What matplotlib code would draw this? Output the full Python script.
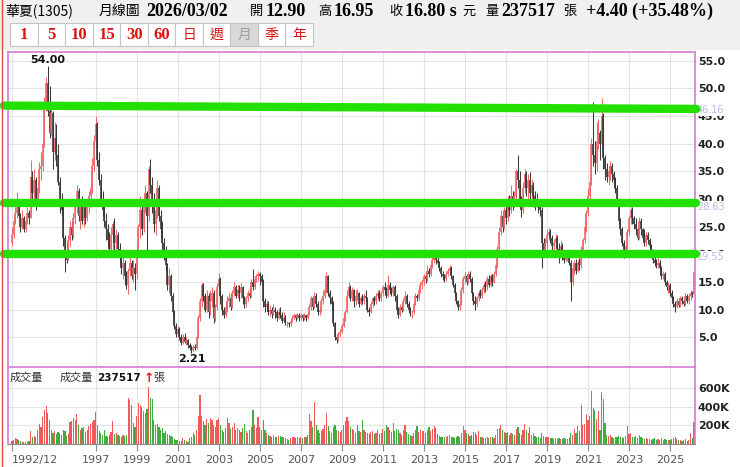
import numpy as np
import matplotlib
matplotlib.use("Agg")
import matplotlib.pyplot as plt
from matplotlib.patches import Rectangle
from matplotlib.lines import Line2D
from matplotlib.transforms import blended_transform_factory

plt.rcParams['font.family'] = ['DejaVu Sans', 'Noto Sans CJK TC']

# monthly bars 1992/12 .. 2026/03 (one row per year)
close = [
    23.5,
    26.0, 27.5, 29.5, 27.0, 25.0, 26.5, 24.5, 26.0, 27.5, 26.5, 34.0, 31.0,
    33.5, 29.5, 32.0, 35.5, 36.0, 40.0, 47.0, 51.0, 46.0, 42.0, 45.5, 38.5,
    41.0, 38.0, 33.0, 29.0, 28.0, 23.0, 20.5, 19.0, 22.5, 25.0, 23.5, 26.5,
    28.5, 31.5, 27.0, 28.5, 26.0, 28.5, 26.5, 29.0, 30.5, 32.0, 36.0, 40.5,
    43.5, 37.0, 33.5, 30.0, 28.0, 26.0, 24.5, 22.5, 21.0, 23.5, 25.5, 22.0,
    23.5, 21.0, 19.5, 17.5, 18.5, 16.0, 14.5, 17.0, 18.5, 16.0, 17.5, 16.5,
    20.5, 25.0, 28.0, 24.5, 29.5, 31.0, 27.0, 35.5, 32.5, 30.0, 25.5, 28.0,
    32.0, 27.0, 24.5, 22.0, 20.0, 18.0, 14.5, 16.0, 12.5, 9.5, 7.0, 5.5,
    6.5, 5.0, 4.0, 5.0, 4.2, 4.5, 3.5, 3.0, 2.6, 3.2, 3.0, 5.0,
    8.5, 11.5, 14.5, 12.5, 10.0, 12.5, 9.5, 11.5, 13.0, 8.5, 10.5, 14.0,
    15.5, 12.5, 10.0, 9.0, 10.5, 11.5, 12.0, 10.5, 13.0, 14.0, 12.5, 13.5,
    13.0, 14.0, 12.0, 11.0, 12.0, 13.0, 12.5, 15.0, 14.0, 15.5, 16.0, 16.5,
    16.0, 15.0, 11.5, 10.5, 11.0, 9.5, 10.0, 9.2, 10.0, 9.5, 8.5, 9.5,
    9.0, 8.0, 8.5, 7.5, 7.5, 7.3, 8.0, 8.5, 9.0, 8.5, 9.0, 8.5,
    9.0, 8.4, 9.0, 8.5, 9.2, 10.5, 12.0, 10.5, 12.5, 11.0, 9.5, 10.0,
    11.5, 12.5, 13.5, 16.0, 13.0, 12.0, 11.0, 7.5, 5.0, 4.5, 5.5, 6.0,
    7.0, 8.5, 9.5, 12.5, 14.0, 12.0, 13.5, 11.5, 12.5, 13.0, 11.0, 12.0,
    11.5, 12.5, 12.0, 10.0, 9.5, 11.0, 12.0, 11.5, 12.5, 13.0, 12.0, 13.0,
    14.0, 13.5, 12.5, 14.5, 13.5, 13.0, 14.0, 12.5, 10.0, 9.0, 10.5, 10.0,
    11.5, 12.5, 11.0, 10.0, 9.5, 9.5, 11.0, 12.5, 12.0, 13.5, 14.5, 15.0,
    16.0, 15.5, 17.0, 16.5, 18.0, 19.0, 20.0, 19.0, 18.5, 17.5, 16.5, 16.0,
    15.5, 16.5, 17.0, 17.5, 16.0, 14.5, 13.0, 11.5, 10.5, 11.0, 13.5, 15.5,
    16.0, 15.0, 16.5, 15.5, 13.0, 11.5, 11.0, 12.0, 13.0, 12.5, 13.5, 14.5,
    14.0, 15.5, 14.5, 16.0, 15.0, 16.5, 18.0, 21.0, 24.0, 27.0, 25.0, 28.0,
    26.5, 29.5, 28.0, 30.5, 29.5, 30.5, 35.0, 33.5, 30.0, 28.0, 32.0, 34.5,
    32.0, 33.5, 31.0, 32.5, 30.5, 29.5, 29.0, 28.5, 28.0, 22.0, 20.5, 22.0,
    23.5, 24.0, 23.0, 21.5, 22.0, 23.0, 21.0, 20.5, 21.5, 20.0, 19.0, 19.5,
    20.0, 18.5, 15.0, 17.5, 18.5, 17.0, 18.5, 18.0, 20.5, 22.5, 25.0, 27.5,
    30.5, 33.0, 40.0, 38.0, 36.5, 40.5, 42.0, 40.0, 45.0, 37.5, 35.5, 34.0,
    35.0, 36.0, 34.5, 33.5, 32.0, 29.5, 26.0, 24.5, 22.0, 20.5, 21.5, 24.0,
    26.5, 28.0, 26.5, 25.5, 24.5, 23.0, 26.0, 24.5, 23.0, 22.0, 23.5, 22.5,
    21.5, 20.5, 19.0, 18.5, 18.0, 18.5, 17.5, 16.0, 16.5, 15.0, 14.0, 14.5,
    13.0, 12.0, 11.0, 10.5, 11.5, 10.8, 12.0, 11.5, 11.0, 12.5, 11.5, 12.5,
    13.0, 12.9, 16.8,
]
high = [
    25.0,
    26.5, 28.5, 31.2, 30.0, 27.5, 28.0, 27.0, 27.0, 28.5, 28.0, 37.0, 35.0,
    35.5, 34.0, 33.0, 36.7, 38.5, 41.0, 48.5, 52.0, 54.0, 50.5, 47.0, 46.0,
    44.0, 43.5, 40.0, 34.0, 31.0, 29.0, 23.5, 22.0, 23.5, 26.0, 26.0, 27.5,
    29.5, 32.5, 32.0, 29.5, 30.5, 29.5, 30.0, 30.0, 31.5, 33.0, 37.5, 41.5,
    45.0, 44.0, 38.5, 34.5, 31.5, 29.0, 27.5, 25.5, 24.0, 25.0, 26.0, 26.5,
    24.5, 24.0, 22.0, 20.5, 19.5, 19.0, 17.0, 17.5, 19.5, 19.0, 19.0, 18.5,
    22.0, 25.5, 30.5, 29.0, 31.0, 32.5, 31.5, 36.0, 37.2, 34.0, 31.0, 30.0,
    33.5, 32.5, 28.0, 26.0, 23.0, 21.5, 18.5, 17.5, 16.5, 13.0, 10.0, 7.5,
    7.0, 6.8, 5.5, 5.5, 5.8, 5.0, 4.6, 3.9, 3.5, 3.6, 3.8, 5.5,
    9.0, 12.0, 15.0, 14.8, 13.0, 13.5, 13.0, 13.5, 14.0, 13.5, 11.0, 14.8,
    16.7, 15.8, 12.8, 10.5, 11.5, 12.5, 13.0, 12.8, 13.5, 15.0, 14.5, 14.5,
    14.5, 14.8, 14.2, 12.5, 12.5, 13.6, 14.0, 15.5, 17.4, 16.0, 16.5, 17.0,
    16.8, 16.5, 15.5, 12.0, 11.8, 11.5, 10.8, 10.5, 11.0, 10.5, 10.0, 10.2,
    10.5, 9.5, 9.5, 9.0, 8.0, 7.8, 8.3, 9.0, 9.3, 9.2, 9.4, 9.3,
    9.3, 9.2, 9.3, 9.1, 9.5, 11.0, 12.5, 12.5, 13.2, 13.0, 11.5, 10.5,
    12.0, 13.5, 15.0, 16.8, 16.2, 13.5, 12.5, 11.5, 7.8, 5.5, 6.0, 6.5,
    7.5, 9.0, 10.0, 13.5, 15.0, 14.5, 14.0, 13.8, 13.5, 13.8, 13.2, 12.5,
    12.8, 13.0, 13.5, 12.3, 10.5, 11.5, 12.3, 12.5, 13.0, 13.6, 13.5, 13.3,
    14.5, 15.0, 14.0, 16.2, 15.0, 14.0, 14.5, 14.5, 12.8, 10.5, 11.0, 11.0,
    12.0, 13.3, 12.8, 11.5, 10.5, 10.0, 11.4, 13.0, 12.8, 14.0, 15.0, 15.5,
    16.5, 16.8, 18.0, 17.5, 18.5, 19.5, 21.0, 20.8, 19.5, 18.8, 17.8, 17.0,
    16.5, 17.0, 17.5, 18.0, 17.8, 16.3, 14.8, 13.2, 11.8, 11.5, 14.0, 16.0,
    16.8, 16.5, 17.0, 17.0, 15.8, 13.2, 12.5, 12.5, 13.5, 13.8, 14.0, 15.0,
    15.2, 16.0, 16.2, 16.5, 16.5, 17.0, 18.5, 21.5, 25.0, 28.0, 27.8, 28.5,
    29.0, 30.5, 30.8, 32.5, 31.5, 31.5, 35.5, 37.9, 35.0, 30.5, 33.0, 35.5,
    35.0, 34.5, 34.8, 33.5, 33.0, 31.5, 31.0, 30.0, 29.5, 28.5, 23.0, 23.0,
    24.5, 24.8, 24.5, 23.5, 22.8, 23.6, 23.5, 22.0, 22.5, 22.0, 20.5, 20.5,
    20.5, 20.5, 19.0, 18.0, 19.0, 19.2, 19.0, 19.3, 21.5, 23.0, 26.0, 28.0,
    32.0, 34.0, 41.0, 47.6, 40.5, 44.0, 44.5, 42.5, 48.2, 45.5, 38.0, 36.5,
    36.0, 36.8, 36.5, 35.0, 34.0, 32.5, 30.0, 26.5, 25.0, 22.5, 22.5, 24.5,
    27.0, 28.6, 28.5, 27.0, 26.5, 25.0, 26.8, 26.5, 24.8, 24.5, 24.0, 24.0,
    23.0, 21.8, 21.0, 19.8, 19.2, 19.3, 19.0, 17.8, 17.0, 16.8, 15.3, 15.0,
    14.8, 13.5, 12.5, 11.5, 12.0, 12.0, 12.5, 12.5, 12.0, 13.0, 12.8, 13.0,
    13.5, 13.4, 16.95,
]
low = [
    21.5,
    23.0, 25.5, 26.5, 26.5, 24.0, 24.5, 24.0, 24.0, 25.5, 25.5, 26.5, 29.5,
    30.0, 28.0, 29.0, 31.0, 33.5, 35.0, 39.5, 46.0, 45.0, 41.0, 41.5, 35.5,
    37.0, 36.0, 32.5, 27.5, 27.0, 21.5, 16.8, 18.5, 19.0, 21.5, 22.5, 23.0,
    25.5, 27.5, 26.0, 24.5, 25.5, 25.0, 25.5, 26.0, 27.5, 28.5, 31.0, 35.0,
    39.5, 36.0, 32.5, 29.0, 27.0, 25.0, 22.5, 21.5, 20.0, 20.0, 21.0, 19.5,
    20.5, 19.5, 18.5, 16.5, 15.5, 14.5, 13.8, 12.9, 16.0, 15.5, 15.0, 13.5,
    15.5, 19.5, 23.0, 23.5, 24.0, 27.5, 20.5, 26.0, 31.0, 27.5, 24.0, 23.5,
    26.5, 26.0, 23.0, 20.5, 19.0, 17.0, 13.5, 13.0, 11.5, 9.0, 6.5, 5.0,
    5.0, 4.5, 3.6, 3.8, 3.9, 3.5, 3.0, 2.6, 2.21, 2.4, 2.6, 2.9,
    4.8, 8.0, 10.5, 11.5, 9.5, 9.5, 8.5, 9.0, 10.5, 7.5, 8.0, 10.0,
    12.5, 11.0, 9.0, 8.5, 8.6, 9.5, 10.5, 10.0, 10.2, 12.5, 12.0, 12.0,
    11.5, 12.0, 11.0, 10.2, 10.5, 11.5, 12.0, 12.3, 13.5, 13.8, 15.0, 15.2,
    14.5, 14.5, 10.5, 9.5, 9.8, 9.0, 8.8, 8.5, 9.0, 8.5, 8.0, 8.3,
    8.5, 7.5, 7.8, 7.2, 6.9, 6.9, 7.0, 7.8, 8.2, 8.0, 8.2, 8.0,
    8.1, 7.9, 8.1, 8.0, 8.3, 9.0, 10.0, 10.0, 10.2, 10.5, 9.0, 9.0,
    9.5, 11.0, 12.0, 13.0, 12.5, 11.0, 10.0, 7.0, 4.5, 3.9, 4.3, 5.0,
    5.8, 6.8, 8.0, 9.3, 12.0, 11.5, 11.5, 10.5, 10.8, 11.8, 10.5, 10.8,
    11.0, 11.0, 11.5, 9.5, 8.9, 9.4, 10.5, 10.8, 11.0, 11.8, 11.5, 11.5,
    12.5, 12.8, 12.0, 12.3, 12.8, 12.5, 12.5, 11.5, 9.5, 8.5, 8.8, 9.5,
    9.8, 11.0, 10.5, 9.3, 8.9, 8.4, 9.2, 10.8, 11.5, 11.8, 13.0, 13.8,
    14.5, 14.8, 15.2, 15.8, 16.0, 17.5, 18.5, 18.2, 17.8, 17.0, 15.8, 15.3,
    15.0, 15.2, 16.0, 16.6, 15.5, 14.0, 12.5, 11.0, 9.9, 9.9, 10.8, 13.0,
    14.8, 14.5, 14.8, 15.0, 12.5, 10.8, 10.0, 10.5, 11.5, 12.0, 12.0, 13.0,
    13.2, 13.5, 14.0, 14.2, 14.3, 14.8, 16.0, 17.5, 20.5, 23.5, 24.0, 24.5,
    25.5, 26.0, 27.0, 27.5, 28.0, 28.5, 29.5, 32.0, 28.5, 26.8, 27.5, 31.0,
    30.5, 30.0, 30.0, 29.5, 28.5, 28.0, 28.5, 27.5, 27.0, 17.5, 19.5, 20.0,
    21.0, 22.5, 22.0, 20.5, 20.5, 21.0, 20.0, 18.5, 20.0, 19.0, 18.5, 18.8,
    18.8, 18.0, 11.6, 14.5, 16.5, 16.5, 16.8, 17.2, 17.5, 19.5, 22.0, 24.0,
    27.0, 29.5, 32.5, 36.0, 34.5, 35.0, 39.0, 37.0, 39.0, 35.5, 33.5, 33.0,
    32.5, 33.5, 33.0, 32.0, 31.0, 29.0, 25.5, 23.5, 21.5, 19.3, 20.0, 21.0,
    23.5, 25.5, 25.5, 24.5, 23.5, 22.5, 22.8, 23.5, 22.5, 21.5, 21.5, 21.8,
    21.0, 20.0, 18.5, 17.8, 17.5, 17.5, 16.5, 15.5, 15.5, 14.5, 13.5, 13.0,
    12.5, 11.5, 10.5, 9.6, 10.2, 10.5, 10.5, 11.0, 10.6, 10.8, 11.2, 11.0,
    11.8, 12.2, 12.5,
]
# volume in thousands of lots (張)
volume_k = [
    30,
    45, 60, 55, 40, 30, 20, 25, 20, 25, 30, 135, 70,
    90, 80, 150, 210, 180, 290, 360, 403, 330, 261, 150, 120,
    140, 110, 130, 120, 100, 150, 140, 90, 110, 240, 250, 280,
    260, 322, 200, 150, 170, 180, 130, 150, 190, 210, 240, 260,
    340, 200, 140, 120, 100, 150, 90, 80, 100, 130, 250, 110,
    120, 100, 90, 80, 100, 90, 100, 493, 470, 414, 229, 180,
    300, 443, 420, 400, 350, 330, 380, 607, 490, 480, 260, 200,
    210, 180, 150, 170, 120, 140, 110, 100, 90, 70, 50, 40,
    40, 35, 30, 60, 40, 30, 25, 60, 80, 120, 100, 150,
    300, 520, 296, 250, 200, 270, 220, 280, 260, 200, 180, 260,
    280, 200, 150, 130, 170, 280, 220, 160, 180, 220, 150, 170,
    150, 130, 170, 210, 140, 120, 150, 180, 360, 200, 170, 286,
    180, 150, 261, 150, 120, 100, 90, 80, 100, 80, 70, 90,
    90, 70, 80, 60, 50, 45, 60, 70, 80, 60, 70, 60,
    70, 60, 80, 70, 100, 322, 250, 180, 450, 200, 150, 120,
    140, 160, 200, 333, 190, 140, 120, 180, 200, 150, 140, 130,
    150, 200, 250, 286, 250, 180, 160, 150, 120, 200, 140, 130,
    261, 150, 130, 120, 110, 130, 140, 110, 120, 150, 110, 120,
    160, 140, 207, 180, 150, 130, 225, 140, 160, 150, 120, 100,
    150, 202, 130, 110, 100, 90, 120, 150, 190, 130, 150, 140,
    140, 120, 150, 180, 140, 160, 190, 170, 110, 90, 70, 80,
    70, 80, 90, 100, 80, 70, 60, 80, 90, 70, 120, 195,
    150, 120, 110, 90, 100, 130, 120, 100, 140, 80, 70, 60,
    60, 70, 60, 80, 70, 60, 100, 160, 170, 200, 150, 130,
    120, 130, 100, 120, 110, 100, 160, 180, 120, 100, 150, 210,
    150, 120, 180, 100, 120, 90, 80, 70, 60, 120, 90, 70,
    80, 70, 60, 65, 55, 60, 50, 60, 55, 50, 60, 50,
    50, 60, 120, 100, 160, 120, 190, 140, 414, 206, 210, 322,
    260, 300, 571, 389, 360, 270, 350, 150, 553, 477, 225, 100,
    90, 100, 80, 60, 70, 80, 90, 70, 80, 60, 90, 195,
    110, 120, 80, 70, 90, 60, 100, 70, 60, 50, 60, 50,
    50, 45, 55, 60, 45, 50, 40, 60, 45, 50, 40, 45,
    40, 50, 60, 70, 50, 40, 45, 35, 40, 50, 35, 40,
    118, 60, 237.517,
]
first_open = 22.0

tick_pos = [0, 49, 73, 97, 121, 145, 169, 193, 217, 241, 265, 289, 313, 337, 361, 385]
tick_labels = ["1992/12", "1997", "1999", "2001", "2003", "2005", "2007", "2009",
               "2011", "2013", "2015", "2017", "2019", "2021", "2023", "2025"]

support_levels = [46.16, 28.63, 19.55]
support_drawn = [(46.9, 46.3), (29.35, 29.35), (20.05, 20.05)]

close = np.array(close)
high = np.array(high)
low = np.array(low)
volume_k = np.array(volume_k)
opn = np.r_[first_open, close[:-1]]
idx = np.arange(len(close))
up = close >= opn
high = np.maximum(high, np.maximum(opn, close))
low = np.minimum(low, np.minimum(opn, close))

W, H = 740, 467
fig = plt.figure(figsize=(W / 100, H / 100), dpi=100)
fig.patch.set_facecolor("white")


def fx(px):
    return px / W


def fy(py):
    return 1 - py / H


pink = "#d47ad8"
up_c, dn_c = "#f26868", "#3a3a3a"

# header band
fig.patches.append(Rectangle((0, fy(50)), 1, 50 / H, transform=fig.transFigure,
                             facecolor="#f0f0f0", edgecolor="none", zorder=0))
fig.lines.append(Line2D([fx(1.5), fx(1.5)], [0, 1], transform=fig.transFigure,
                        color="#e04848", lw=1))

cjk = ["Noto Sans CJK TC", "DejaVu Sans"]
serif = ["Liberation Serif", "Noto Sans CJK TC"]
hy = fy(11)
fig.text(fx(5), hy, "華夏(1305)", family=cjk, fontsize=10, va="center")
fig.text(fx(99), hy, "月線圖", family=cjk, fontsize=10, va="center")
fig.text(fx(146), hy, "2026/03/02", family=serif, fontsize=13, weight="bold", va="center")
parts = [(250, "開", False), (266, "12.90", True), (318, "高", False), (334, "16.95", True),
         (389, "收", False), (405, "16.80 s", True), (462, "元", False), (485, "量", False),
         (501, "237517", True), (563, "張", False), (586, "+4.40 (+35.48%)", True)]
for x, s, b in parts:
    if b:
        fig.text(fx(x), hy, s, family=serif, fontsize=13, weight="bold", va="center")
    else:
        fig.text(fx(x), hy, s, family=cjk, fontsize=9.5, va="center")

buttons = ["1", "5", "10", "15", "30", "60", "日", "週", "月", "季", "年"]
bw = 27.5
for k, s in enumerate(buttons):
    x0 = 10.4 + k * bw
    active = s == "月"
    fig.patches.append(Rectangle((fx(x0), fy(46)), bw / W, 23 / H, transform=fig.transFigure,
                                 facecolor="#d9d9d9" if active else "white",
                                 edgecolor="#c4c4c4", lw=0.8, zorder=1))
    col = "#a0a0a0" if active else "#dd1111"
    if s.isdigit():
        fig.text(fx(x0 + bw / 2), fy(35), s, family=serif, fontsize=12, weight="bold",
                 color=col, ha="center", va="center")
    else:
        fig.text(fx(x0 + bw / 2), fy(35), s, family=cjk, fontsize=10,
                 color=col, ha="center", va="center")

# price panel
ax = fig.add_axes([fx(8), fy(367), (695 - 8) / W, (367 - 52) / H])
ax.set_xlim(-2.3, 399.6)
ax.set_ylim(-0.4, 56.6)
for sp in ax.spines.values():
    sp.set_color(pink)
    sp.set_linewidth(1.2)
ax.set_xticks(tick_pos)
ax.set_xticklabels([])
ax.set_yticks(np.arange(5, 56, 5))
ax.set_yticklabels([f"{v:.1f}" for v in np.arange(5, 56, 5)])
ax.yaxis.tick_right()
ax.tick_params(axis="both", length=0)
ax.tick_params(axis="y", pad=2, labelsize=8, labelcolor="#222222")
for t in ax.get_yticklabels():
    t.set_fontweight("bold")
ax.grid(True, color="#e4e4e4", lw=0.8)
ax.set_axisbelow(True)

cols = np.where(up, up_c, dn_c)
ax.vlines(idx, low, high, colors=cols, lw=0.75, zorder=2)
ax.vlines(idx, np.minimum(opn, close), np.maximum(opn, close), colors=cols, lw=1.2, zorder=2)

ax.text(21, 54.0 + 0.3, "54.00", ha="center", va="bottom", fontsize=8, weight="bold", color="#111111")
ax.text(105, 2.21 - 0.3, "2.21", ha="center", va="top", fontsize=8, weight="bold", color="#111111")

tr = blended_transform_factory(ax.transAxes, ax.transData)
for lvl in support_levels:
    ax.text(1.003, lvl, f"{lvl:.2f}", transform=tr, fontsize=7, color="#c2b6ea",
            va="center", ha="left", zorder=5,
            bbox=dict(facecolor="white", edgecolor="none", pad=0.6))
for y0, y1 in support_drawn:
    ax.plot([-0.006, 1.002], [y0, y1], transform=tr, color="#22e000", lw=6,
            solid_capstyle="round", clip_on=False, zorder=6)

# volume panel
vax = fig.add_axes([fx(8), fy(444), (695 - 8) / W, (444 - 367.5) / H])
vax.set_xlim(-2.3, 399.6)
vax.set_ylim(0, 820)
vcols = np.where(up, "#f05a5a", "#3fae3f")
vax.bar(idx, volume_k, width=0.7, color=vcols, zorder=2)
vax.spines["top"].set_visible(False)
for k in ["left", "right"]:
    vax.spines[k].set_color(pink)
    vax.spines[k].set_linewidth(1.2)
vax.spines["bottom"].set_color("#8a8a8a")
vax.set_xticks(tick_pos)
vax.set_xticklabels(tick_labels, fontsize=8, color="#555555")
vax.get_xticklabels()[0].set_horizontalalignment("left")
vax.tick_params(axis="x", length=5, color="#8a8a8a", pad=3)
vax.set_yticks([200, 400, 600])
vax.set_yticklabels(["200K", "400K", "600K"])
vax.yaxis.tick_right()
vax.tick_params(axis="y", length=0, pad=2, labelsize=8, labelcolor="#222222")
for t in vax.get_yticklabels():
    t.set_fontweight("bold")
vax.grid(True, color="#e4e4e4", lw=0.8)
vax.set_axisbelow(True)

vy = fy(378)
fig.text(fx(10), vy, "成交量", family=cjk, fontsize=8, va="center", color="#333333")
fig.text(fx(60), vy, "成交量", family=cjk, fontsize=8, va="center", color="#333333")
fig.text(fx(97), vy, "237517", fontsize=7.5, weight="bold", va="center", color="#111111")
fig.text(fx(144), vy, "↑", fontsize=9, weight="bold", va="center", color="#e02020")
fig.text(fx(153), vy, "張", family=cjk, fontsize=8, va="center", color="#333333")

fig.savefig("out.png", dpi=100)
